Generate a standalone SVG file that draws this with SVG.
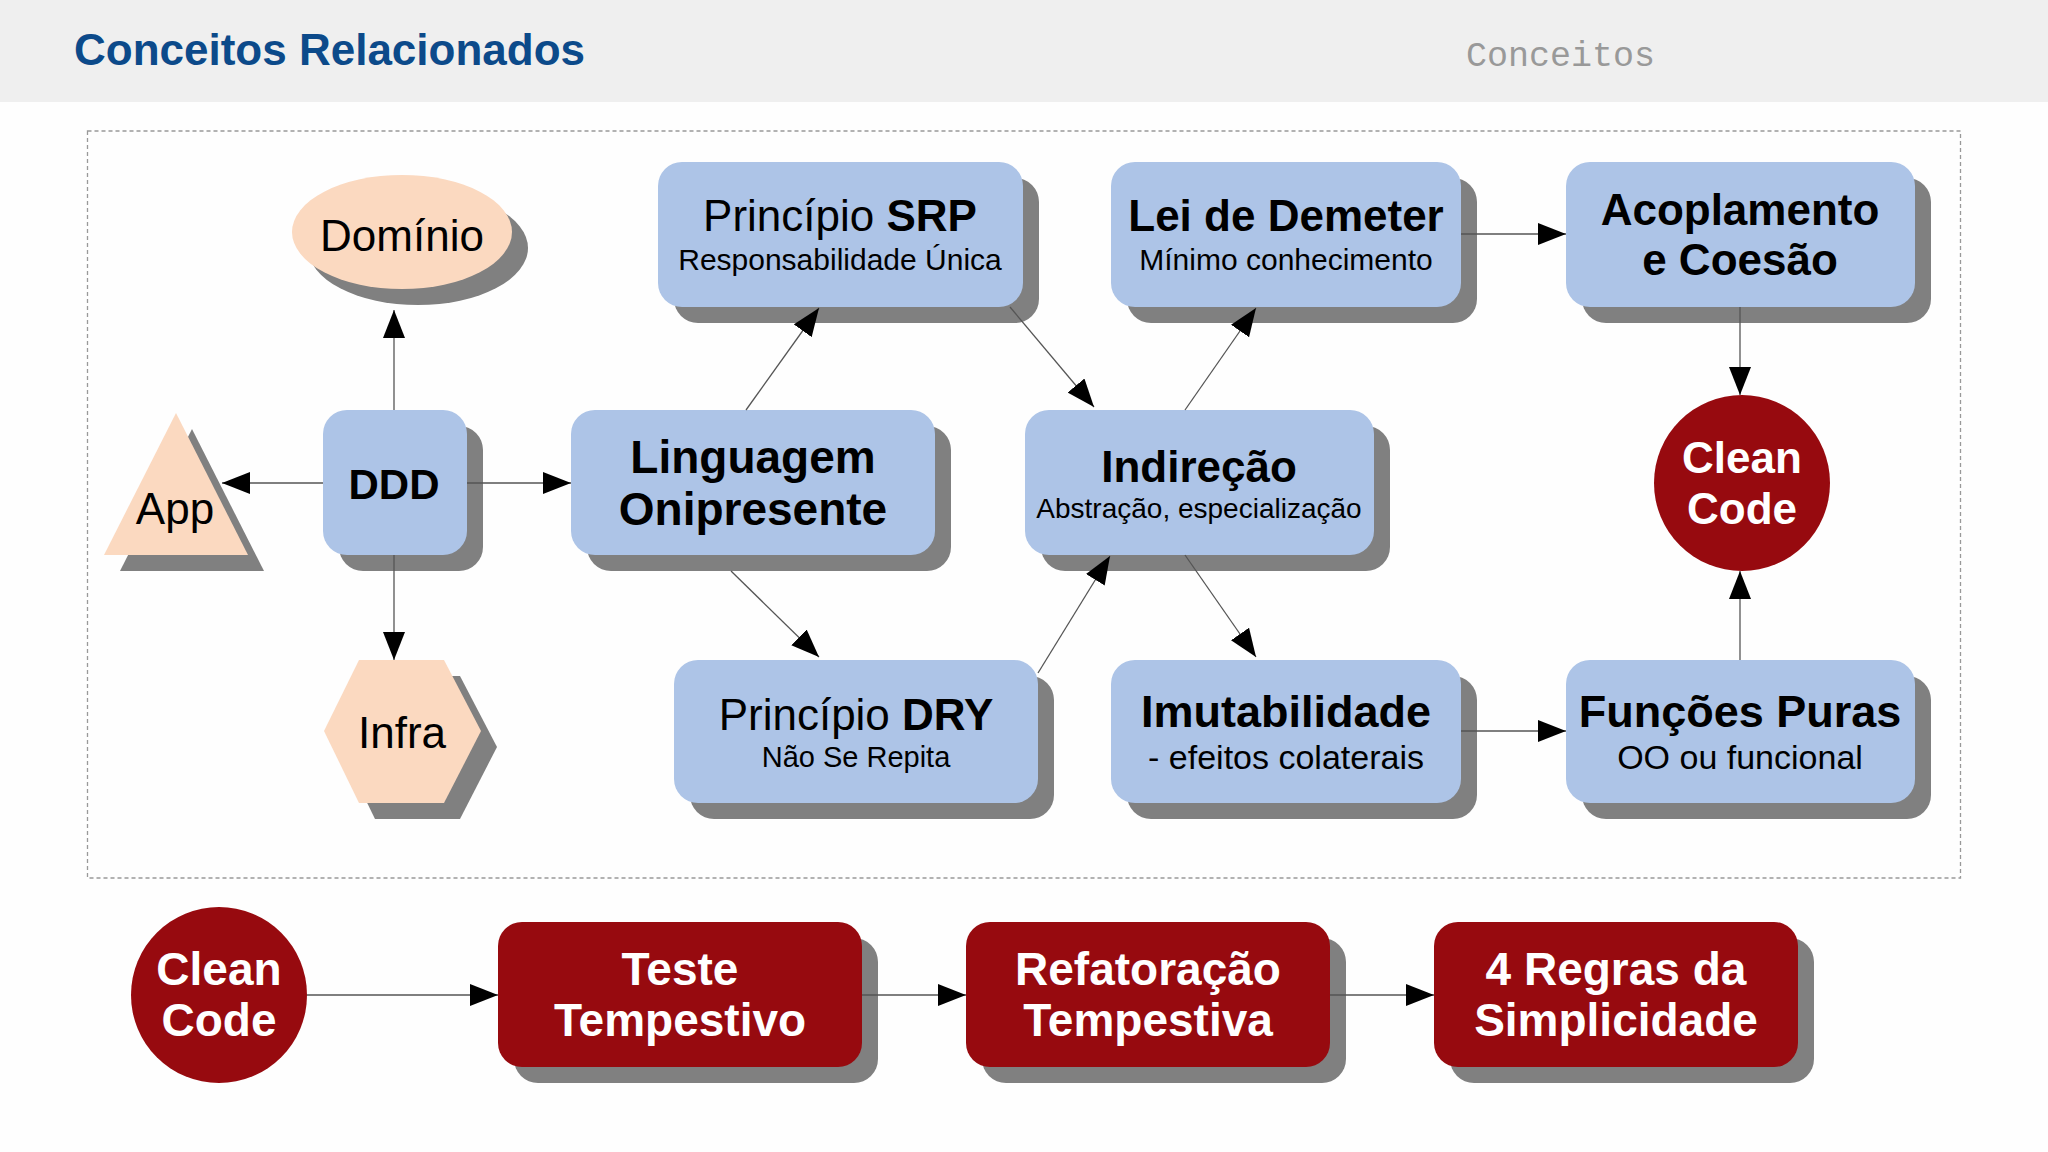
<svg xmlns="http://www.w3.org/2000/svg" width="2048" height="1152" viewBox="0 0 2048 1152">
<defs>
<marker id="ah" markerUnits="userSpaceOnUse" markerWidth="28" markerHeight="22" refX="28" refY="11" orient="auto"><path d="M0,0 L28,11 L0,22 Z" fill="#000"/></marker>
<style>
text{font-family:"Liberation Sans",Arial,sans-serif;text-anchor:middle;fill:#000}
.b{font-weight:bold}
.w{fill:#fff;font-weight:bold;font-size:46px}
.box{fill:#adc4e7}
.sh{fill:#808080}
.red{fill:#970a0f}
.peach{fill:#fbd9c0}
.c line{stroke:#555;stroke-width:1.3;marker-end:url(#ah)}
</style>
</defs>
<rect width="2048" height="1152" fill="#fefefe"/>
<rect width="2048" height="102" fill="#efefef"/>
<text x="74" y="65" style="text-anchor:start;font-weight:bold;font-size:44px;fill:#0c4a8a">Conceitos Relacionados</text>
<text x="1466" y="66" style="text-anchor:start;font-family:'Liberation Mono',monospace;font-size:35px;fill:#999">Conceitos</text>
<rect x="87.5" y="131" width="1873" height="747" fill="none" stroke="#999" stroke-width="1.3" stroke-dasharray="4,3"/>

<g id="dominio"><ellipse class="sh" cx="418" cy="248" rx="110" ry="57"/><ellipse class="peach" cx="402" cy="232" rx="110" ry="57"/><text x="402" y="251" style="font-size:44px">Domínio</text></g>
<g id="ddd"><rect class="sh" x="339" y="426" width="144" height="145" rx="24"/><rect class="box" x="323" y="410" width="144" height="145" rx="24"/><text class="b" x="394" y="499" style="font-size:42px">DDD</text></g>
<g id="app"><polygon class="sh" points="192,429 264,571 120,571"/><polygon class="peach" points="176,413 248,555 104,555"/><text x="175" y="524" style="font-size:44px">App</text></g>
<g id="infra"><polygon class="sh" points="340,747 375,676 460,676 497,747 460,819 375,819"/><polygon class="peach" points="324,731 359,660 444,660 481,731 444,803 359,803"/><text x="402" y="748" style="font-size:44px">Infra</text></g>
<g id="linguagem"><rect class="sh" x="587" y="426" width="364" height="145" rx="24"/><rect class="box" x="571" y="410" width="364" height="145" rx="24"/><text class="b" x="753" y="473" style="font-size:46px">Linguagem</text><text class="b" x="753" y="525" style="font-size:46px">Onipresente</text></g>
<g id="srp"><rect class="sh" x="674" y="178" width="365" height="145" rx="24"/><rect class="box" x="658" y="162" width="365" height="145" rx="24"/><text x="840" y="231" style="font-size:44px">Princípio <tspan class="b">SRP</tspan></text><text x="840" y="270" style="font-size:30px">Responsabilidade Única</text></g>
<g id="demeter"><rect class="sh" x="1127" y="178" width="350" height="145" rx="24"/><rect class="box" x="1111" y="162" width="350" height="145" rx="24"/><text class="b" x="1286" y="231" style="font-size:44px">Lei de Demeter</text><text x="1286" y="270" style="font-size:30px">Mínimo conhecimento</text></g>
<g id="acoplamento"><rect class="sh" x="1582" y="178" width="349" height="145" rx="24"/><rect class="box" x="1566" y="162" width="349" height="145" rx="24"/><text class="b" x="1740" y="225" style="font-size:44px">Acoplamento</text><text class="b" x="1740" y="275" style="font-size:44px">e Coesão</text></g>
<g id="indirecao"><rect class="sh" x="1041" y="426" width="349" height="145" rx="24"/><rect class="box" x="1025" y="410" width="349" height="145" rx="24"/><text class="b" x="1199" y="482" style="font-size:44px">Indireção</text><text x="1199" y="518" style="font-size:28px">Abstração, especialização</text></g>
<g id="cleancode1"><circle class="red" cx="1742" cy="483" r="88"/><text class="w" x="1742" y="473" style="font-size:44px">Clean</text><text class="w" x="1742" y="524" style="font-size:44px">Code</text></g>
<g id="dry"><rect class="sh" x="690" y="676" width="364" height="143" rx="24"/><rect class="box" x="674" y="660" width="364" height="143" rx="24"/><text x="856" y="730" style="font-size:44px">Princípio <tspan class="b">DRY</tspan></text><text x="856" y="767" style="font-size:29px">Não Se Repita</text></g>
<g id="imutabilidade"><rect class="sh" x="1127" y="676" width="350" height="143" rx="24"/><rect class="box" x="1111" y="660" width="350" height="143" rx="24"/><text class="b" x="1286" y="727" style="font-size:45px">Imutabilidade</text><text x="1286" y="769" style="font-size:34px">- efeitos colaterais</text></g>
<g id="funcoes"><rect class="sh" x="1582" y="676" width="349" height="143" rx="24"/><rect class="box" x="1566" y="660" width="349" height="143" rx="24"/><text class="b" x="1740" y="727" style="font-size:45px">Funções Puras</text><text x="1740" y="769" style="font-size:34px">OO ou funcional</text></g>

<g id="cleancode2"><circle class="red" cx="219" cy="995" r="88"/><text class="w" x="219" y="985">Clean</text><text class="w" x="219" y="1036">Code</text></g>
<g id="teste"><rect class="sh" x="514" y="938" width="364" height="145" rx="24"/><rect class="red" x="498" y="922" width="364" height="145" rx="24"/><text class="w" x="680" y="985">Teste</text><text class="w" x="680" y="1036">Tempestivo</text></g>
<g id="refatoracao"><rect class="sh" x="982" y="938" width="364" height="145" rx="24"/><rect class="red" x="966" y="922" width="364" height="145" rx="24"/><text class="w" x="1148" y="985">Refatoração</text><text class="w" x="1148" y="1036">Tempestiva</text></g>
<g id="regras"><rect class="sh" x="1450" y="938" width="364" height="145" rx="24"/><rect class="red" x="1434" y="922" width="364" height="145" rx="24"/><text class="w" x="1616" y="985">4 Regras da</text><text class="w" x="1616" y="1036">Simplicidade</text></g>

<g class="c" id="connectors">
<line x1="394" y1="410" x2="394" y2="310"/>
<line x1="323" y1="483" x2="222" y2="483"/>
<line x1="467" y1="483" x2="571" y2="483"/>
<line x1="394" y1="555" x2="394" y2="660"/>
<line x1="746" y1="410" x2="819" y2="308"/>
<line x1="731" y1="571" x2="819" y2="657"/>
<line x1="1010" y1="307" x2="1094" y2="407"/>
<line x1="1038" y1="673" x2="1110" y2="556"/>
<line x1="1185" y1="410" x2="1256" y2="308"/>
<line x1="1185" y1="555" x2="1256" y2="657"/>
<line x1="1461" y1="234" x2="1566" y2="234"/>
<line x1="1740" y1="307" x2="1740" y2="395"/>
<line x1="1461" y1="731" x2="1566" y2="731"/>
<line x1="1740" y1="660" x2="1740" y2="571"/>
<line x1="307" y1="995" x2="498" y2="995"/>
<line x1="862" y1="995" x2="966" y2="995"/>
<line x1="1330" y1="995" x2="1434" y2="995"/>
</g>
</svg>
